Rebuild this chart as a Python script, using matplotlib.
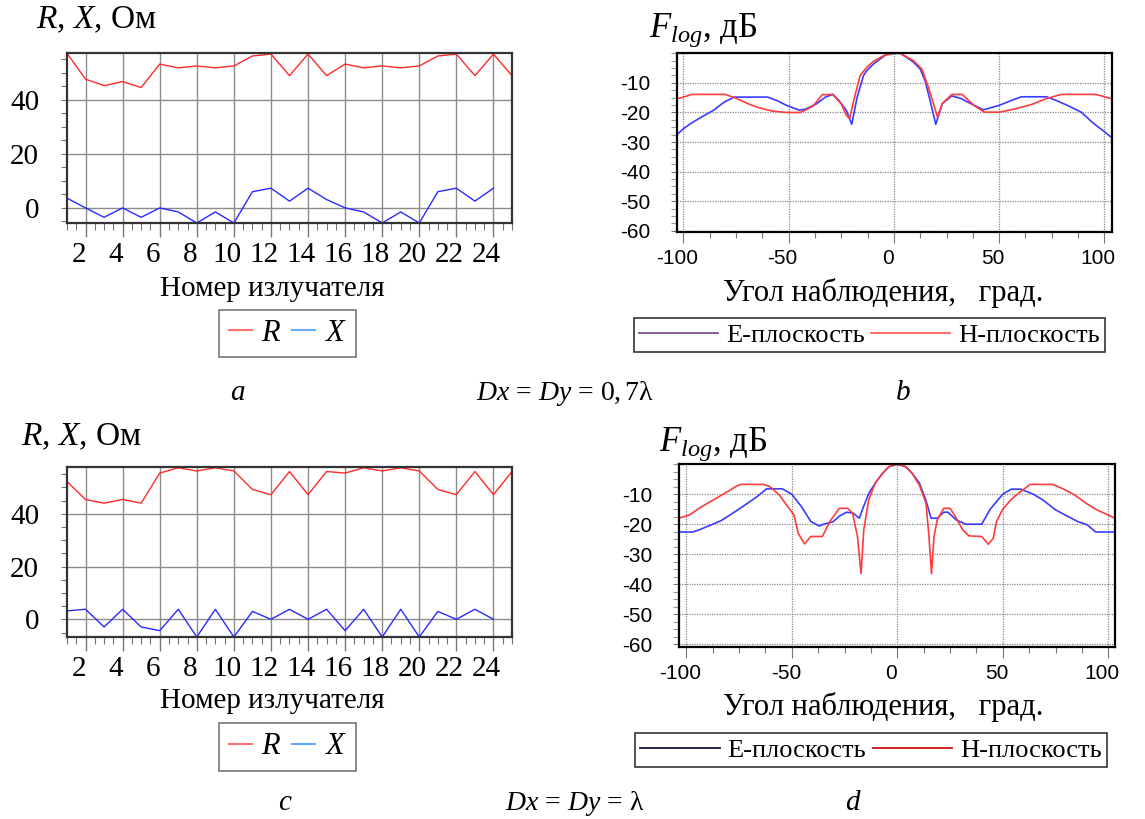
import matplotlib
matplotlib.use("Agg")
import matplotlib.pyplot as plt
import matplotlib.transforms as mtransforms
from matplotlib.lines import Line2D
from matplotlib.ticker import MultipleLocator, FixedLocator

plt.rcParams['font.family'] = ['Liberation Serif', 'DejaVu Serif']
plt.rcParams['mathtext.fontset'] = 'custom'
plt.rcParams['mathtext.rm'] = 'Liberation Serif'
plt.rcParams['mathtext.it'] = 'Liberation Serif:italic'
plt.rcParams['mathtext.bf'] = 'Liberation Serif:bold'

# ---------------- data ----------------
elements = list(range(1, 26))
R_a = [57.3, 47.7, 45.3, 46.8, 44.6, 53.3, 51.9, 52.6, 51.9, 52.6, 56.3, 57.0, 49.0,
       57.0, 49.0, 53.3, 51.9, 52.6, 51.9, 52.6, 56.3, 57.0, 49.0, 57.0, 49.0]
X_a = [3.6, 0.0, -3.5, 0.0, -3.5, 0.0, -1.5, -5.6, -1.5, -5.6, 6.0, 7.3, 2.5,
       7.3, 3.1, 0.0, -1.5, -5.6, -1.5, -5.6, 6.0, 7.3, 2.5, 7.3]
R_c = [52.2, 45.4, 44.0, 45.4, 44.0, 55.4, 57.4, 56.2, 57.4, 56.2, 49.2, 47.2, 56.0,
       47.2, 56.0, 55.4, 57.4, 56.2, 57.4, 56.2, 49.2, 47.2, 56.0, 47.2, 56.0]
X_c = [3.2, 3.8, -2.9, 3.8, -2.9, -4.3, 3.8, -6.7, 3.8, -6.7, 3.0, 0.0, 3.8,
       0.0, 3.8, -4.3, 3.8, -6.7, 3.8, -6.7, 3.0, 0.0, 3.8, 0.0]

ang_bE = [-103, -100, -96, -90, -85.5, -81, -76, -70, -60, -55.5, -51, -45, -42, -37,
          -32.5, -29, -26, -22.5, -20, -17.5, -14.4, -12.8, -9.6, -6.5, -3.3, 0, 3,
          6.5, 9.3, 12.5, 14.8, 17.2, 19.9, 23, 27.5, 32, 36.5, 42.5, 50, 56, 60.5,
          72.5, 77, 83, 89, 94.5, 100, 103.6]
val_bE = [-27.5, -25.5, -23.5, -21, -19.2, -16.7, -14.8, -14.8, -14.8, -16, -17.6, -19.2,
          -18.9, -17.2, -14.8, -13.9, -16, -19.4, -24.0, -15.0, -7.5, -5.8, -3.6, -1.9,
          -0.2, 0, 0, -1.6, -3.0, -5.3, -9.2, -16, -24.0, -17, -14.4, -15.3, -17, -19.1,
          -17.6, -15.9, -14.7, -14.7, -15.9, -17.8, -19.9, -23.5, -26.5, -28.6]
ang_bH = [-103, -100, -96, -80, -75, -69, -64.5, -58, -51, -44.5, -41.5, -38.5, -34, -29,
          -25, -22.5, -21, -19.1, -16, -12.8, -9.6, -4.9, 0, 3, 6, 9.3, 13.3, 16.4,
          18.8, 20.7, 23, 27.5, 32.5, 38, 43, 50, 57.5, 65, 72.5, 79.5, 96, 103.6]
val_bH = [-15.4, -14.8, -13.9, -13.9, -15.2, -17.1, -18.3, -19.5, -20, -20, -19, -17.9,
          -14, -13.9, -17.1, -21.0, -22.1, -16, -7.5, -4.7, -2.7, -0.8, 0, 0, -1.2,
          -2.5, -5.3, -11.5, -17, -21.6, -17, -13.9, -13.9, -17.6, -19.9, -19.9, -18.8,
          -17.4, -15.3, -13.9, -13.9, -15.4]

ang_dE = [-103.5, -97, -94, -89.5, -83.5, -76, -71, -66.5, -62, -54.5, -50, -45.5, -41,
          -37, -35, -30.5, -27.5, -24, -21, -18, -16, -13.5, -10.5, -7, -4, 0, 4, 7,
          10.5, 13.5, 16, 19, 22, 24, 28, 32.5, 40, 44, 50, 54, 58.5, 64.5, 69, 75,
          79.5, 85.5, 90, 94, 103.2]
val_dE = [-22.6, -22.6, -21.9, -20.6, -18.8, -15.4, -13, -10.8, -8.2, -8.2, -10, -14.1,
          -19.1, -20.6, -20, -19.2, -17.3, -16, -16.3, -18, -14.1, -9.7, -6.3, -3, -0.8,
          0, -0.8, -3, -6.3, -11.9, -18, -18, -16, -16, -18.6, -20, -20, -15, -10, -8.3,
          -8.3, -10, -11.9, -15.2, -16.9, -19.1, -20.2, -22.6, -22.6]
ang_dH = [-103.5, -98.5, -94, -89.5, -85, -80.5, -76, -74, -63.5, -60.5, -56, -52.5, -49,
          -47, -44, -41, -35.5, -32, -27.5, -23.5, -21.2, -18.9, -17.2, -15.9, -13.6,
          -10.5, -7, -4, 0, 4, 7, 10.5, 13.6, 15, 16.2, 17.4, 18.9, 22, 25, 28, 31, 34,
          40, 43.2, 45.5, 47, 50, 54, 58.5, 63, 73.5, 78, 84, 89.5, 94, 103.2]
val_dH = [-18, -16.9, -14.7, -12.8, -11, -9.1, -7.2, -6.7, -6.7, -7.4, -10.2, -13.6, -16.9,
          -23, -26.6, -24.1, -24.1, -19.1, -14.7, -14.7, -16.3, -24.1, -36.5, -21.9, -12,
          -6.3, -3, -0.8, 0, -0.8, -3, -7, -13, -24, -36.5, -24.1, -18.6, -14.7, -14.7,
          -18, -21.9, -23.9, -24.1, -26.7, -24.7, -19.1, -15, -11.7, -9.1, -6.7, -6.7,
          -8, -10.2, -13, -15, -18]

# ---------------- layout ----------------
W, H = 1145, 819
fig = plt.figure(figsize=(W / 100, H / 100), dpi=100)


def box(l, t, r, b):
    return [l / W, 1 - b / H, (r - l) / W, (b - t) / H]


def fx(x):
    return x / W


def fy(y):
    return 1 - y / H


def shift_xlabels(ax, dx_px):
    off = mtransforms.ScaledTranslation(dx_px / 100, 0, fig.dpi_scale_trans)
    for lab in ax.get_xticklabels():
        lab.set_transform(lab.get_transform() + off)


def style_left(ax, ylim):
    ax.set_xlim(1, 25)
    ax.set_ylim(*ylim)
    ax.xaxis.set_major_locator(FixedLocator(list(range(2, 25, 2))))
    ax.xaxis.set_minor_locator(MultipleLocator(0.5))
    ax.yaxis.set_major_locator(FixedLocator([0, 20, 40]))
    ax.yaxis.set_minor_locator(MultipleLocator(5))
    ax.set_xticklabels([str(v) for v in range(2, 25, 2)])
    ax.grid(True, which='major', color='#8c8c8c', lw=1.0)
    ax.tick_params(axis='x', which='major', length=10, width=1, color='#777',
                   pad=4, labelsize=21)
    ax.tick_params(axis='x', which='minor', length=5, width=0.8, color='#777')
    ax.tick_params(axis='y', which='major', length=4, width=0.8, color='#777',
                   pad=16, labelsize=21)
    ax.tick_params(axis='y', which='minor', length=4, width=0.8, color='#777')
    for s in ax.spines.values():
        s.set_color('#333333')
        s.set_linewidth(1.6)
    shift_xlabels(ax, -7)


def style_right(ax, xlim, ylim):
    ax.set_xlim(*xlim)
    ax.set_ylim(*ylim)
    ax.xaxis.set_major_locator(FixedLocator([-100, -50, 0, 50, 100]))
    ax.xaxis.set_minor_locator(MultipleLocator(12.5))
    ax.yaxis.set_major_locator(FixedLocator([-60, -50, -40, -30, -20, -10]))
    ax.yaxis.set_minor_locator(MultipleLocator(2.5))
    ax.set_xticklabels(['-100', '-50', '0', '50', '100'])
    ax.set_yticklabels(['-60', '-50', '-40', '-30', '-20', '-10'])
    ax.grid(True, which='major', color='#888888', lw=0.9, ls=(0, (1, 1)))
    ax.tick_params(axis='x', which='major', length=8, width=0.8, color='#777',
                   pad=4, labelsize=15)
    ax.tick_params(axis='x', which='minor', length=4, width=0.8, color='#777')
    ax.tick_params(axis='y', which='major', length=4, width=0.8, color='#777',
                   pad=15, labelsize=15)
    ax.tick_params(axis='y', which='minor', length=4, width=0.8, color='#999')
    for lab in ax.get_xticklabels() + ax.get_yticklabels():
        lab.set_family(['Liberation Sans', 'DejaVu Sans'])
    for s in ax.spines.values():
        s.set_color('black')
        s.set_linewidth(1.6)
    shift_xlabels(ax, -6)


RED = '#ff2a2a'
BLUE = '#2a2aff'

# ---- a ----
ax_a = fig.add_axes(box(67, 53, 512, 223))
ax_a.plot(elements, R_a, color=RED, lw=1.0)
ax_a.plot(elements[:len(X_a)], X_a, color=BLUE, lw=1.0)
style_left(ax_a, (-5.6, 57.4))

# ---- c ----
ax_c = fig.add_axes(box(67, 467, 512, 637))
ax_c.plot(elements, R_c, color=RED, lw=1.0)
ax_c.plot(elements[:len(X_c)], X_c, color=BLUE, lw=1.0)
style_left(ax_c, (-6.7, 57.7))

# ---- b ----
ax_b = fig.add_axes(box(677, 53, 1112, 232))
ax_b.plot(ang_bE, val_bE, color='#3b3bff', lw=1.2)
ax_b.plot(ang_bH, val_bH, color='#ff3b3b', lw=1.2)
style_right(ax_b, (-103, 103.6), (-60.4, 0.1))

# ---- d ----
ax_d = fig.add_axes(box(679, 464, 1115, 647))
ax_d.plot(ang_dE, val_dE, color='#3b3bff', lw=1.2)
ax_d.plot(ang_dH, val_dH, color='#ff3b3b', lw=1.2)
style_right(ax_d, (-103.5, 103.2), (-61, 0.1))

# ---- titles / axis labels ----
fig.text(fx(36), fy(20), r'$R$, $X$, Ом', fontsize=24, va='center', ha='left')
fig.text(fx(21), fy(437), r'$R$, $X$, Ом', fontsize=24, va='center', ha='left')
fig.text(fx(649), fy(30), r'$F_{log}$, дБ', fontsize=25, va='center', ha='left')
fig.text(fx(659), fy(444), r'$F_{log}$, дБ', fontsize=25, va='center', ha='left')

fig.text(fx(272), fy(289), 'Номер излучателя', fontsize=21, ha='center', va='center')
fig.text(fx(272), fy(701), 'Номер излучателя', fontsize=21, ha='center', va='center')
fig.text(fx(883), fy(293), 'Угол наблюдения,   град.', fontsize=22, ha='center', va='center')
fig.text(fx(883), fy(707), 'Угол наблюдения,   град.', fontsize=22, ha='center', va='center')

# ---- captions ----
fig.text(fx(238), fy(393), r'$a$', fontsize=21, ha='center', va='center')
fig.text(fx(565), fy(393), r'$Dx$ = $Dy$ = $0,7$λ', fontsize=20, ha='center', va='center')
fig.text(fx(903), fy(393), r'$b$', fontsize=21, ha='center', va='center')
fig.text(fx(285), fy(803), r'$c$', fontsize=21, ha='center', va='center')
fig.text(fx(575), fy(803), r'$Dx$ = $Dy$ = λ', fontsize=20, ha='center', va='center')
fig.text(fx(853), fy(803), r'$d$', fontsize=21, ha='center', va='center')

# ---- legends ----
def rx_legend(cy):
    h = [Line2D([], [], color='#ff7070', lw=1.5), Line2D([], [], color='#66aaff', lw=1.5)]
    leg = fig.legend(h, [r'$R$', r'$X$'], loc='center',
                     bbox_to_anchor=(fx(287.5), fy(cy)), ncol=2, fontsize=22,
                     handlelength=0.75, handletextpad=0.3, columnspacing=0.35,
                     frameon=True, fancybox=False, borderpad=0.3, borderaxespad=0)
    leg.get_frame().set_edgecolor('#555555')
    leg.get_frame().set_linewidth(1.2)


def plane_legend(cx, cy, cE, cH):
    h = [Line2D([], [], color=cE, lw=1.3), Line2D([], [], color=cH, lw=1.3)]
    leg = fig.legend(h, ['Е-плоскость', 'Н-плоскость'], loc='center',
                     bbox_to_anchor=(fx(cx), fy(cy)), ncol=2, fontsize=19,
                     handlelength=3.0, handletextpad=0.3, columnspacing=0.25,
                     frameon=True, fancybox=False, borderpad=0.2, borderaxespad=0)
    leg.get_frame().set_edgecolor('black')
    leg.get_frame().set_linewidth(1.2)


rx_legend(333.5)
rx_legend(747)
plane_legend(869.5, 335, '#7a4f90', '#ff5a5a')
plane_legend(871, 750, '#1a1040', '#cc1010')

fig.savefig('out.png', dpi=100)
